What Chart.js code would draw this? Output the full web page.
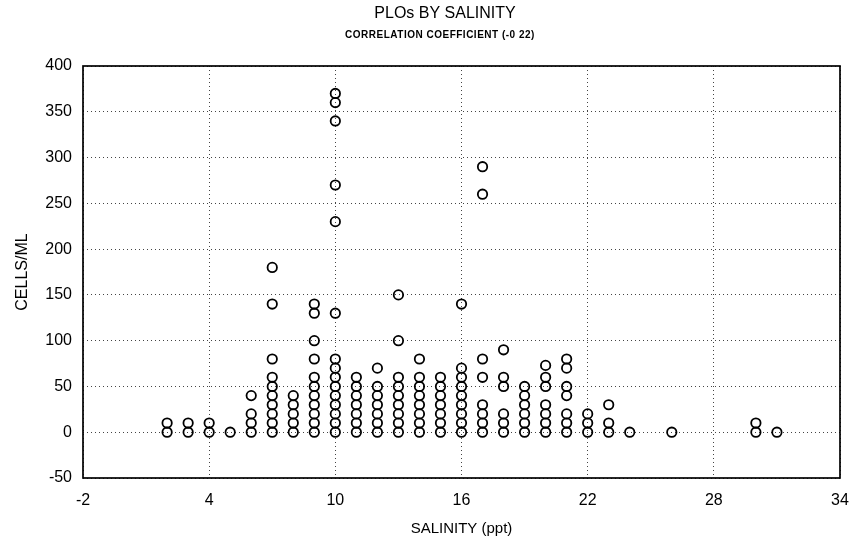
<!DOCTYPE html>
<html>
<head>
  <meta charset="utf-8">
  <title>PLOs BY SALINITY</title>
  <script src="https://cdn.jsdelivr.net/npm/chart.js"></script>
  <style>
    html, body { margin: 0; padding: 0; background: #fff; }
    canvas { display: block; }
  </style>
</head>
<body>
  <canvas id="plo" width="853" height="543"></canvas>

  <script>
    // Солоність (ppt) — кожна колонка точок
    const salinity = [2, 3, 4, 5, 6, 7, 8, 9, 10, 11, 12, 13, 14, 15, 16, 17, 18, 19, 20, 21, 22, 23, 24, 26, 30, 31];

    // Клітин/мл для кожної солоності (в тому ж порядку)
    const cellsPerMl = [
      [0, 10],
      [0, 10],
      [0, 10],
      [0],
      [0, 10, 20, 40],
      [0, 10, 20, 30, 40, 50, 60, 80, 140, 180],
      [0, 10, 20, 30, 40],
      [0, 10, 20, 30, 40, 50, 60, 80, 100, 130, 140],
      [0, 10, 20, 30, 40, 50, 60, 70, 80, 130, 230, 270, 340, 360, 370],
      [0, 10, 20, 30, 40, 50, 60],
      [0, 10, 20, 30, 40, 50, 70],
      [0, 10, 20, 30, 40, 50, 60, 100, 150],
      [0, 10, 20, 30, 40, 50, 60, 80],
      [0, 10, 20, 30, 40, 50, 60],
      [0, 10, 20, 30, 40, 50, 60, 70, 140],
      [0, 10, 20, 30, 60, 80, 260, 290],
      [0, 10, 20, 50, 60, 90],
      [0, 10, 20, 30, 40, 50],
      [0, 10, 20, 30, 50, 60, 73],
      [0, 10, 20, 40, 50, 70, 80],
      [0, 10, 20],
      [0, 10, 30],
      [0],
      [0],
      [0, 10],
      [0]
    ];

    const xTicks = [-2, 4, 10, 16, 22, 28, 34];
    const yTicks = [-50, 0, 50, 100, 150, 200, 250, 300, 350, 400];

    const FONT = 'Liberation Sans, Arial, sans-serif';

    // точки для scatter
    const points = [];
    salinity.forEach((s, i) => {
      cellsPerMl[i].forEach(v => points.push({ x: s, y: v }));
    });

    // заголовки зверху
    const heading = {
      id: 'heading',
      afterDraw(chart) {
        const ctx = chart.ctx;
        ctx.save();
        ctx.fillStyle = '#000';
        ctx.textAlign = 'center';
        ctx.textBaseline = 'middle';
        ctx.font = '16px ' + FONT;
        ctx.fillText('PLOs BY SALINITY', 445, 14);
        ctx.font = 'bold 10px ' + FONT;
        ctx.letterSpacing = '0.5px';
        ctx.fillText('CORRELATION COEFFICIENT (-0 22)', 440, 35);
        ctx.restore();
      }
    };

    // рамка навколо області графіка
    const frame = {
      id: 'frame',
      afterDatasetsDraw(chart) {
        const { ctx, chartArea: a } = chart;
        ctx.save();
        ctx.strokeStyle = '#000';
        ctx.lineWidth = 1.7;
        ctx.strokeRect(a.left, a.top, a.right - a.left, a.bottom - a.top);
        ctx.restore();
      }
    };

    new Chart(document.getElementById('plo').getContext('2d'), {
      type: 'scatter',
      data: {
        datasets: [{
          label: 'PLOs',
          data: points,
          pointStyle: 'circle',
          pointRadius: 4.7,
          pointBorderWidth: 1.8,
          pointBorderColor: '#000',
          pointBackgroundColor: 'rgba(255,255,255,0)'
        }]
      },
      options: {
        responsive: false,
        animation: false,
        layout: { padding: { top: 66, right: 13, left: 0, bottom: 0 } },
        plugins: {
          legend: { display: false },
          tooltip: { enabled: false }
        },
        scales: {
          x: {
            type: 'linear',
            min: -2,
            max: 34,
            afterBuildTicks: axis => { axis.ticks = xTicks.map(v => ({ value: v })); },
            afterFit: axis => {
              axis.height = 65;
              axis.paddingLeft = 0;
              axis.paddingRight = 0;
            },
            ticks: { color: '#000', padding: 13, font: { family: FONT, size: 16 } },
            grid: { color: '#444', lineWidth: 1, drawTicks: false },
            border: { display: false, dash: [1, 3] },
            title: { display: true, text: 'SALINITY (ppt)', color: '#000', font: { family: FONT, size: 15 }, padding: { top: 0, bottom: 5 } }
          },
          y: {
            type: 'linear',
            min: -50,
            max: 400,
            afterBuildTicks: axis => { axis.ticks = yTicks.map(v => ({ value: v })); },
            afterFit: axis => { axis.width = 83; },
            ticks: { color: '#000', padding: 11, font: { family: FONT, size: 16 } },
            grid: { color: '#444', lineWidth: 1, drawTicks: false },
            border: { display: false, dash: [1, 3] },
            title: { display: true, text: 'CELLS/ML', color: '#000', font: { family: FONT, size: 16 }, padding: { top: 13, bottom: 0 } }
          }
        }
      },
      plugins: [heading, frame]
    });
  </script>
</body>
</html>
